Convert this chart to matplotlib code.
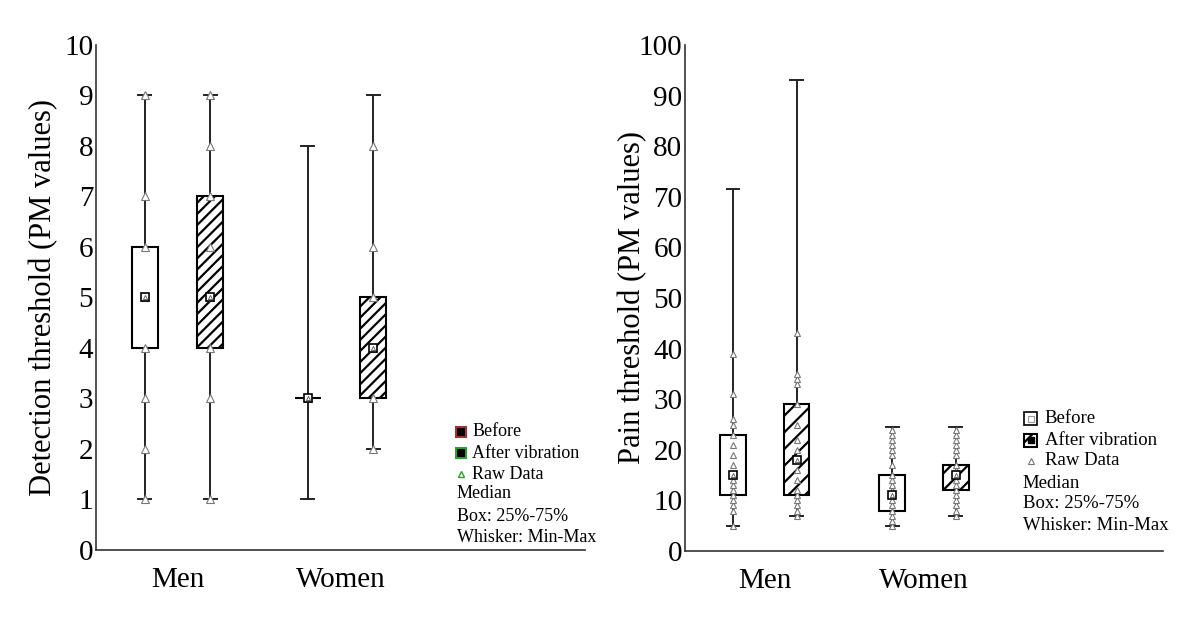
import matplotlib.pyplot as plt
from matplotlib.patches import Rectangle

plt.rcParams['font.family'] = ['Liberation Serif', 'DejaVu Serif']
plt.rcParams['hatch.linewidth'] = 1.6

# Groups
cats = ['Men', 'Women']
groups = ['Before', 'After vibration']

# Detection threshold: (min, q1, median, q3, max) per category
det_before = [(1, 4, 5, 6, 9), (1, 3, 3, 3, 8)]
det_after = [(1, 4, 5, 7, 9), (2, 3, 4, 5, 9)]
det_raw_before = [[1, 2, 3, 4, 5, 6, 7, 9], [3]]
det_raw_after = [[1, 3, 4, 5, 6, 7, 8, 9], [2, 3, 4, 5, 6, 8]]

# Pain threshold: (min, q1, median, q3, max) per category
pain_before = [(5, 11, 15, 23, 71.5), (5, 8, 11, 15, 24.5)]
pain_after = [(7, 11, 18, 29, 93), (7, 12, 15, 17, 24.5)]
pain_raw_before = [[5, 8, 9, 10, 11, 12, 13, 14, 15, 17, 19, 21, 23, 25, 26, 31, 39],
                   [5, 6, 7, 8, 9, 10, 11, 12, 13, 14, 15, 17, 19, 20, 21, 22, 23, 24]]
pain_raw_after = [[7, 8, 9, 10, 11, 12, 14, 16, 18, 20, 22, 25, 29, 33, 34, 35, 43],
                  [7, 8, 9, 10, 11, 12, 13, 14, 15, 16, 17, 19, 20, 21, 22, 23, 24]]

legend_lines = ['Median', 'Box: 25%-75%', 'Whisker: Min-Max']

fig = plt.figure(figsize=(12, 6.42), dpi=100)
ax1 = fig.add_axes([0.08, 0.1433, 0.4075, 0.7867])
ax2 = fig.add_axes([0.571, 0.1417, 0.398, 0.7883])

offset = 0.2
width = 0.16


def draw_boxes(ax, before, after, raw_before, raw_after, ms, hatch):
    for k, (stats, raw, htch) in enumerate([(before, raw_before, None),
                                             (after, raw_after, hatch)]):
        pos = [i + 1 + (offset if k else -offset) for i in range(len(cats))]
        bstats = [dict(whislo=s[0], q1=s[1], med=s[2], q3=s[3], whishi=s[4],
                       fliers=[]) for s in stats]
        b = ax.bxp(bstats, positions=pos, widths=width, patch_artist=True,
                   showfliers=False, capwidths=0.08,
                   boxprops=dict(facecolor='white', edgecolor='black', linewidth=1.5),
                   whiskerprops=dict(color='#222222', linewidth=1.4),
                   capprops=dict(color='#222222', linewidth=1.4),
                   medianprops=dict(visible=False))
        for p in b['boxes']:
            if htch:
                p.set_hatch(htch)
        for x, s, r in zip(pos, stats, raw):
            ax.plot([x] * len(r), r, '^', ms=ms, mfc='white', mec='#777777',
                    mew=0.8, zorder=4)
            ax.plot(x, s[2], 's', ms=6, mfc='white', mec='black', mew=1.2,
                    zorder=5)
            ax.plot(x, s[2], '^', ms=3, mfc='white', mec='#555555', mew=0.6,
                    zorder=6)


def style_axis(ax, ymax, step, ylabel, lpad):
    ax.set_xlim(0.5, 3.5)
    ax.set_ylim(0, ymax)
    ax.set_yticks(range(0, ymax + 1, step))
    ax.set_xticks([1, 2])
    ax.set_xticklabels(cats)
    ax.spines['top'].set_visible(False)
    ax.spines['right'].set_visible(False)
    for s in ['left', 'bottom']:
        ax.spines[s].set_color('#333333')
        ax.spines[s].set_linewidth(1.2)
    ax.tick_params(axis='y', labelsize=21, length=0, pad=2)
    ax.tick_params(axis='x', labelsize=21, length=0, pad=12)
    ax.set_ylabel(ylabel, fontsize=22, labelpad=lpad)


draw_boxes(ax1, det_before, det_after, det_raw_before, det_raw_after, 6, '///')
style_axis(ax1, 10, 1, 'Detection threshold (PM values)', 4)
draw_boxes(ax2, pain_before, pain_after, pain_raw_before, pain_raw_after, 5, '//')
style_axis(ax2, 100, 10, 'Pain threshold (PM values)', -6)

# Left legend
ly = [0.234, 0.192, 0.150, 0.111, 0.067, 0.024]
tx = 0.769
ax1.plot(0.746, ly[0], 's', ms=7, mfc='black', mec='#a83232', mew=1.5,
         transform=ax1.transAxes, clip_on=False)
ax1.plot(0.746, ly[1], 's', ms=7, mfc='black', mec='#2e9e2e', mew=1.5,
         transform=ax1.transAxes, clip_on=False)
ax1.plot(0.746, ly[2], '^', ms=4, mfc='none', mec='#2e9e2e', mew=1.0,
         transform=ax1.transAxes, clip_on=False)
for i, t in enumerate(groups + ['Raw Data']):
    ax1.text(tx, ly[i], t, fontsize=13, va='center', ha='left',
             transform=ax1.transAxes)
for i, t in enumerate(legend_lines):
    ax1.text(0.738, ly[3 + i], t, fontsize=13, va='center', ha='left',
             transform=ax1.transAxes)

# Right legend
ry = [0.261, 0.219, 0.178, 0.134, 0.093, 0.051]
rtx = 0.753
w, h = 0.0272, 0.0257
ax2.add_patch(Rectangle((0.724 - w / 2, ry[0] - h / 2), w, h, fc='white',
                        ec='black', lw=1.2, transform=ax2.transAxes, clip_on=False))
ax2.plot(0.724, ry[0], 's', ms=4, mfc='white', mec='#999999', mew=0.8,
         transform=ax2.transAxes, clip_on=False)
ax2.add_patch(Rectangle((0.724 - w / 2, ry[1] - h / 2), w, h, fc='white',
                        ec='black', lw=1.5, hatch='//',
                        transform=ax2.transAxes, clip_on=False))
ax2.plot(0.724, ry[1], 's', ms=5, mfc='black', mec='black',
         transform=ax2.transAxes, clip_on=False)
ax2.plot(0.724, ry[2], '^', ms=4, mfc='white', mec='#777777', mew=0.8,
         transform=ax2.transAxes, clip_on=False)
for i, t in enumerate(groups + ['Raw Data']):
    ax2.text(rtx, ry[i], t, fontsize=13.5, va='center', ha='left',
             transform=ax2.transAxes)
for i, t in enumerate(legend_lines):
    ax2.text(0.707, ry[3 + i], t, fontsize=13.5, va='center', ha='left',
             transform=ax2.transAxes)

fig.savefig('out.png', dpi=100)
